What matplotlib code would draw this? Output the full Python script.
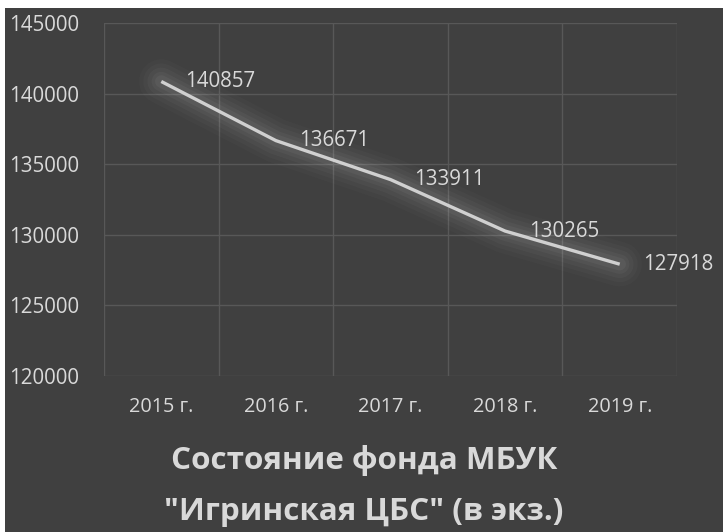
import matplotlib
matplotlib.use("Agg")
import matplotlib.pyplot as plt
from matplotlib.patches import Rectangle

years = ["2015 г.", "2016 г.", "2017 г.", "2018 г.", "2019 г."]
fund = [140857, 136671, 133911, 130265, 127918]
y_ticks = [120000, 125000, 130000, 135000, 140000, 145000]
title = "Состояние фонда МБУК\n\"Игринская ЦБС\" (в экз.)"

bg = "#404040"
txt = "#D9D9D9"
grid = "#585858"

plt.rcParams["font.family"] = ["Open Sans", "DejaVu Sans"]

W, H = 723, 532
fig = plt.figure(figsize=(W / 100, H / 100), dpi=100, facecolor="white")
# dark chart area (white strip left and top like the screenshot)
fig.patches.append(Rectangle((5 / W, 0), 1, 1 - 8 / H, transform=fig.transFigure,
                             facecolor=bg, edgecolor="none", zorder=-5))

ax = fig.add_axes([104 / W, 1 - 376 / H, (677 - 104) / W, (376 - 23) / H])
ax.set_facecolor(bg)
x = list(range(len(years)))

# soft glow under the line
for lw, a in [(32, 0.02), (26, 0.025), (20, 0.03), (14, 0.035), (9, 0.045)]:
    ax.plot(x, fund, color="white", lw=lw, alpha=a, solid_capstyle="round",
            solid_joinstyle="round", zorder=2)
ax.plot(x, fund, color="#D0D0D0", lw=2.4, solid_capstyle="butt", zorder=3)

for xi, v in zip(x, fund):
    ax.annotate(str(v), (xi, v), xytext=(17, 0), textcoords="offset points",
                ha="left", va="center", color=txt, fontsize=14.8, zorder=4)

ax.set_xlim(-0.5, len(years) - 0.5)
ax.set_ylim(120000, 145000)
ax.set_yticks(y_ticks)
ax.set_yticklabels([str(t) for t in y_ticks], ha="left")
ax.set_xticks(x)
ax.set_xticklabels(years)
ax.set_xticks([i - 0.5 for i in range(len(years) + 1)], minor=True)
ax.tick_params(axis="y", length=0, pad=68, colors=txt, labelsize=14.8)
ax.tick_params(axis="x", which="major", length=0, pad=15, colors=txt, labelsize=14.3)
ax.tick_params(axis="x", which="minor", length=0)
ax.grid(axis="y", which="major", color=grid, lw=1)
ax.grid(axis="x", which="minor", color=grid, lw=1)
ax.grid(axis="x", which="major", visible=False)
for s in ax.spines.values():
    s.set_visible(False)
ax.set_axisbelow(True)

fig.text(364 / W, 1 - 486 / H, title, ha="center", va="center", color=txt,
         fontsize=22.6, fontweight="bold", linespacing=1.9)

fig.savefig("out.png", dpi=100, facecolor=fig.get_facecolor())
